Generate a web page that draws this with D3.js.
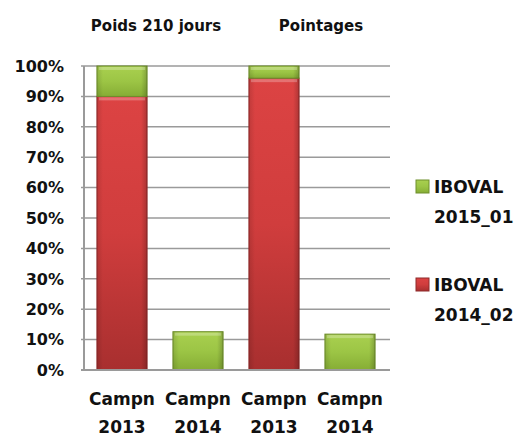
<!DOCTYPE html>
<html>
<head>
<meta charset="utf-8">
<script src="https://cdn.jsdelivr.net/npm/d3@7"></script>
<style>
  body { margin: 0; background: #fff; }
  text { font-family: "DejaVu Sans", sans-serif; font-weight: 700; fill: #111; }
</style>
</head>
<body>
<div id="chart"></div>
<script>
// Data
const groups = ["Poids 210 jours", "Pointages"];
const categories = ["P2013", "P2014", "Q2013", "Q2014"];
const catGroup = ["Poids 210 jours", "Poids 210 jours", "Pointages", "Pointages"];
const catLabels = [["Campn", "2013"], ["Campn", "2014"], ["Campn", "2013"], ["Campn", "2014"]];
const iboval2014 = [0.90, 0, 0.96, 0];      // red series
const iboval2015 = [0.10, 0.126, 0.04, 0.118]; // green series
const yTicks = [0, 0.1, 0.2, 0.3, 0.4, 0.5, 0.6, 0.7, 0.8, 0.9, 1.0];

const width = 518, height = 437;
const margin = { top: 66, right: 130, bottom: 67, left: 84 };

const svg = d3.select("#chart").append("svg")
  .attr("width", width)
  .attr("height", height);

const defs = svg.append("defs");
function grad(id, stops) {
  const g = defs.append("linearGradient").attr("id", id)
    .attr("x1", 0).attr("x2", 0).attr("y1", 0).attr("y2", 1);
  stops.forEach(s => g.append("stop").attr("offset", s[0]).attr("stop-color", s[1]));
}
grad("redG", [[0, "#dc4343"], [0.5, "#d03d3d"], [1, "#a82f2f"]]);
grad("greenG", [[0, "#a9d04f"], [0.5, "#9cc545"], [1, "#86ad35"]]);
// side shading for bevel look
const side = defs.append("linearGradient").attr("id", "sideG")
  .attr("x1", 0).attr("x2", 1).attr("y1", 0).attr("y2", 0);
side.append("stop").attr("offset", 0).attr("stop-color", "#000").attr("stop-opacity", 0.12);
side.append("stop").attr("offset", 0.12).attr("stop-color", "#000").attr("stop-opacity", 0);
side.append("stop").attr("offset", 0.88).attr("stop-color", "#000").attr("stop-opacity", 0);
side.append("stop").attr("offset", 1).attr("stop-color", "#000").attr("stop-opacity", 0.2);

const x = d3.scaleBand()
  .domain(categories)
  .range([margin.left, width - margin.right])
  .paddingInner(0.34)
  .paddingOuter(0.17);

const y = d3.scaleLinear()
  .domain([0, 1])
  .range([height - margin.bottom, margin.top]);

// Gridlines
svg.append("g")
  .selectAll("line")
  .data(yTicks)
  .enter()
  .append("line")
  .attr("x1", margin.left - 3)
  .attr("x2", width - margin.right + 2)
  .attr("y1", d => y(d))
  .attr("y2", d => y(d))
  .attr("stroke", "#9a9a9a")
  .attr("stroke-width", 1.5);

// Left axis line
svg.append("line")
  .attr("x1", margin.left).attr("x2", margin.left)
  .attr("y1", y(1)).attr("y2", y(0))
  .attr("stroke", "#9a9a9a").attr("stroke-width", 2);

// Y tick labels
svg.append("g")
  .selectAll("text")
  .data(yTicks)
  .enter()
  .append("text")
  .attr("x", margin.left - 20)
  .attr("y", d => y(d))
  .attr("dy", "0.36em")
  .attr("text-anchor", "end")
  .attr("font-size", 16)
  .text(d3.format(".0%"));

// Stacked bars
const series = [
  { name: "IBOVAL 2014_02", values: iboval2014, fill: "url(#redG)", stroke: "#8e2a2a" },
  { name: "IBOVAL 2015_01", values: iboval2015, fill: "url(#greenG)", stroke: "#6f8f2c" }
];
const base = categories.map(() => 0);
series.forEach(s => {
  const rows = categories.map((c, i) => ({ c, y0: base[i], y1: base[i] + s.values[i] }));
  rows.forEach((r, i) => base[i] = r.y1);
  const g = svg.append("g");
  const bars = rows.filter(r => r.y1 > r.y0);
  g.selectAll("rect.bar")
    .data(bars)
    .enter()
    .append("rect")
    .attr("class", "bar")
    .attr("x", d => x(d.c))
    .attr("width", x.bandwidth())
    .attr("y", d => y(d.y1))
    .attr("height", d => y(d.y0) - y(d.y1))
    .attr("fill", s.fill)
    .attr("stroke", s.stroke)
    .attr("stroke-width", 1);
  g.selectAll("rect.shade")
    .data(bars)
    .enter()
    .append("rect")
    .attr("class", "shade")
    .attr("x", d => x(d.c))
    .attr("width", x.bandwidth())
    .attr("y", d => y(d.y1))
    .attr("height", d => y(d.y0) - y(d.y1))
    .attr("fill", "url(#sideG)");
  // top highlight
  g.selectAll("rect.hi")
    .data(bars)
    .enter()
    .append("rect")
    .attr("class", "hi")
    .attr("x", d => x(d.c) + 2)
    .attr("width", x.bandwidth() - 4)
    .attr("y", d => y(d.y1) + 1)
    .attr("height", 3)
    .attr("fill", "#fff")
    .attr("opacity", 0.25);
});

// Bottom axis line
svg.append("line")
  .attr("x1", margin.left - 3).attr("x2", width - margin.right + 2)
  .attr("y1", y(0)).attr("y2", y(0))
  .attr("stroke", "#9a9a9a").attr("stroke-width", 2);

// Category labels
const cl = svg.append("g")
  .selectAll("text")
  .data(categories)
  .enter()
  .append("text")
  .attr("text-anchor", "middle")
  .attr("font-size", 17)
  .attr("x", d => x(d) + x.bandwidth() / 2);
cl.append("tspan").attr("x", d => x(d) + x.bandwidth() / 2).attr("y", 405)
  .text((d, i) => catLabels[i][0]);
cl.append("tspan").attr("x", d => x(d) + x.bandwidth() / 2).attr("y", 433)
  .text((d, i) => catLabels[i][1]);

// Group titles
const titleShift = [-4, 9];
svg.append("g")
  .selectAll("text")
  .data(groups)
  .enter()
  .append("text")
  .attr("text-anchor", "middle")
  .attr("font-size", 15)
  .attr("y", 31)
  .attr("x", (g, i) => {
    const cs = categories.filter((c, j) => catGroup[j] === g);
    return (x(cs[0]) + x(cs[cs.length - 1]) + x.bandwidth()) / 2 + titleShift[i];
  })
  .text(g => g);

// Legend
const legendItems = [
  { lines: ["IBOVAL", "2015_01"], fill: "url(#greenG)", stroke: "#6f8f2c", y: 180 },
  { lines: ["IBOVAL", "2014_02"], fill: "url(#redG)", stroke: "#8e2a2a", y: 278 }
];
const lg = svg.append("g").selectAll("g")
  .data(legendItems)
  .enter()
  .append("g");
lg.append("rect")
  .attr("x", 416).attr("y", d => d.y)
  .attr("width", 13).attr("height", 13)
  .attr("fill", d => d.fill).attr("stroke", d => d.stroke);
lg.append("text")
  .attr("font-size", 17)
  .attr("x", 434)
  .attr("y", d => d.y + 13)
  .text(d => d.lines[0]);
lg.append("text")
  .attr("font-size", 17)
  .attr("x", 434)
  .attr("y", d => d.y + 43)
  .text(d => d.lines[1]);
</script>
</body>
</html>
